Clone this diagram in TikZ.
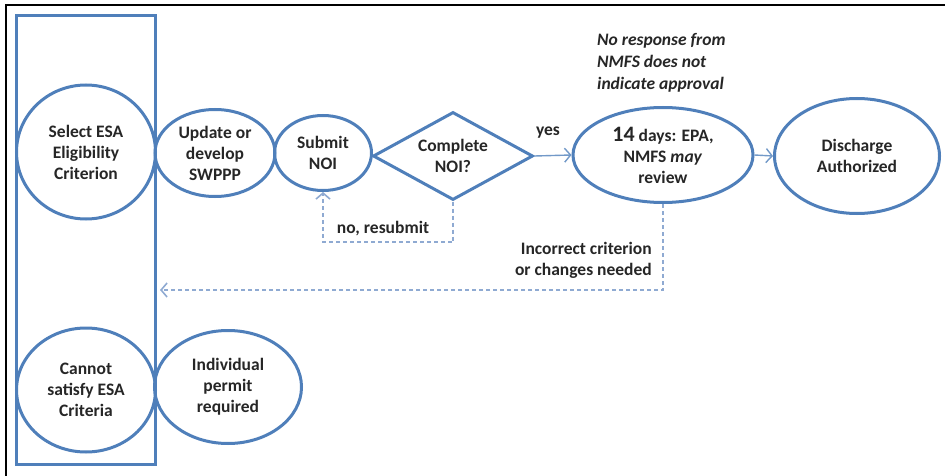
\documentclass[tikz,border=0pt]{standalone}
\usepackage{fontspec}
\setmainfont{Carlito}
\usetikzlibrary{shapes.geometric,arrows.meta}
\definecolor{bl}{HTML}{4F7FBA}
\definecolor{dl}{HTML}{8FAAD2}
\definecolor{tx}{HTML}{262626}
\begin{document}
\begin{tikzpicture}[x=1pt,y=-1pt,
  shp/.style={draw=bl, line width=3pt, ellipse, inner sep=0pt, text=tx,
    font=\bfseries\fontsize{17.5}{21}\selectfont, align=center},
  dia/.style={draw=bl, line width=3pt, diamond, inner sep=0pt, text=tx,
    font=\bfseries\fontsize{17.5}{21}\selectfont, align=center},
  arr/.style={draw=bl!80, line width=1.4pt, -{Straight Barb[length=6pt,width=14pt]}},
  dsh/.style={draw=dl, line width=1.6pt, dash pattern=on 4pt off 3pt, -{Straight Barb[length=6pt,width=14pt]}},
  lbl/.style={text=tx, font=\bfseries\fontsize{17.5}{21}\selectfont, align=center, inner sep=0pt}]
\useasboundingbox (0,0) rectangle (945,476);
\draw[line width=1.5pt] (6,476) -- (6,5) -- (945,5);
\draw[bl, line width=3pt] (16,16) rectangle (155,464);
\node[shp, minimum width=139pt, minimum height=134pt] (sel) at (86,152) {Select ESA\\Eligibility\\Criterion};
\node[shp, minimum width=120pt, minimum height=87pt] (upd) at (215,153) {Update or\\develop\\SWPPP};
\node[shp, minimum width=97pt, minimum height=75pt] (sub) at (323,153) {Submit\\NOI};
\node[dia, minimum width=160pt, minimum height=88pt, aspect=1.8] (cmp) at (453,156) {Complete\\NOI?};
\node[shp, minimum width=180pt, minimum height=95pt] (rev) at (663,155) {{\fontsize{22}{21}\selectfont 14} days: EPA,\\NMFS \textit{may}\\review};
\node[shp, minimum width=165pt, minimum height=115pt] (dis) at (857,156) {Discharge\\Authorized};
\node[shp, minimum width=139pt, minimum height=124pt] (can) at (86,390) {Cannot\\satisfy ESA\\Criteria};
\node[shp, minimum width=147pt, minimum height=113pt] (ind) at (228,387) {Individual\\permit\\required};
\node[lbl, anchor=west, align=left, font=\bfseries\itshape\fontsize{17.5}{22}\selectfont] (note) at (597,63) {No response  from\\NMFS does not\\indicate approval};
\node[lbl] (yes) at (548,133) {yes};
\draw[arr] (cmp.east) -- (rev.west);
\draw[arr] (rev.east) -- (dis.west);
\coordinate (c1) at (453,242);
\draw[dsh] (cmp.south) -- (c1) -| (sub.south);
\node[lbl] (nores) at (383,229) {no, resubmit};
\coordinate (back) at (160,290);
\draw[dsh] (rev.south) |- (back);
\node[lbl, anchor=east, align=right] (inc) at (652,260) {Incorrect criterion\\or changes needed};
\end{tikzpicture}
\end{document}
